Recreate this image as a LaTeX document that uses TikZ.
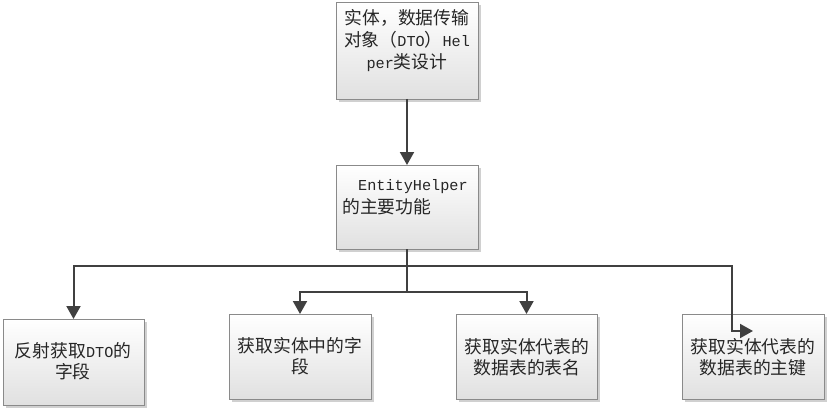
\documentclass[tikz,border=0pt]{standalone}
\usepackage{fontspec}
\setmainfont{Noto Sans CJK SC}
\newfontfamily\latfont{Liberation Mono}
\newcommand\lt[1]{{\latfont\fontsize{15.2}{22}\selectfont #1}}
\usetikzlibrary{arrows.meta,shadows}
\definecolor{conncol}{HTML}{404040}
\definecolor{boxline}{HTML}{8A8A8A}
\tikzset{
  box/.style={draw=boxline, line width=0.8pt, anchor=north west, inner sep=0pt, outer sep=0pt,
    top color=white, bottom color=black!12,
    drop shadow={shadow xshift=3pt, shadow yshift=-3pt, fill=black!30, opacity=0.6}},
  txt/.style={inner sep=0pt, align=center, font=\fontsize{17.8}{21}\selectfont, text=black!85},
  conn/.style={draw=conncol, line width=2pt, -{Triangle[length=13pt,width=14pt]}},
  plain/.style={draw=conncol, line width=2pt}
}
\begin{document}
\begin{tikzpicture}[x=1pt,y=-1pt]
\useasboundingbox (0,0) rectangle (831,412);
\fill[white] (0,0) rectangle (831,412);
% boxes
\node[box, minimum width=142pt, minimum height=97pt] (top) at (336,2) {};
\node[box, minimum width=142pt, minimum height=84pt] (mid) at (336,165) {};
\node[box, minimum width=141pt, minimum height=86pt] (b1) at (3,319) {};
\node[box, minimum width=142pt, minimum height=85pt] (b2) at (229,314) {};
\node[box, minimum width=141pt, minimum height=85pt] (b3) at (456,314) {};
\node[box, minimum width=142pt, minimum height=85pt] (b4) at (682,314) {};
% texts
\node[txt, font=\fontsize{17.8}{22}\selectfont] (topt) at (407,41) {实体，数据传输\\对象（\lt{DTO}）\lt{Hel}\\\lt{per}类设计};
\node[txt, align=left, anchor=west, font=\fontsize{17.8}{23}\selectfont] (midt) at (342,197) {\hspace*{16pt}\lt{EntityHelper}\\的主要功能};
\node[txt] (b1t) at (73,361) {反射获取\lt{DTO}的\\字段};
\node[txt] (b2t) at (300,356) {获取实体中的字\\段};
\node[txt] (b3t) at (527,357) {获取实体代表的\\数据表的表名};
\node[txt] (b4t) at (753,357) {获取实体代表的\\数据表的主键};
% connectors
\coordinate (j1) at (407,266);
\coordinate (j2) at (407,292);
\coordinate (j4) at (732,331);
\coordinate (e4) at (753,331);
\draw[conn] (top.south) -- (mid.north);
\draw[plain] (mid.south) -- (j2);
\draw[conn] (j1) -| (b1.north);
\draw[conn] (j2) -| (b2.north);
\draw[conn] (j2) -| (b3.north);
\draw[conn] (j1) -| (j4) -- (e4);
\end{tikzpicture}
\end{document}
